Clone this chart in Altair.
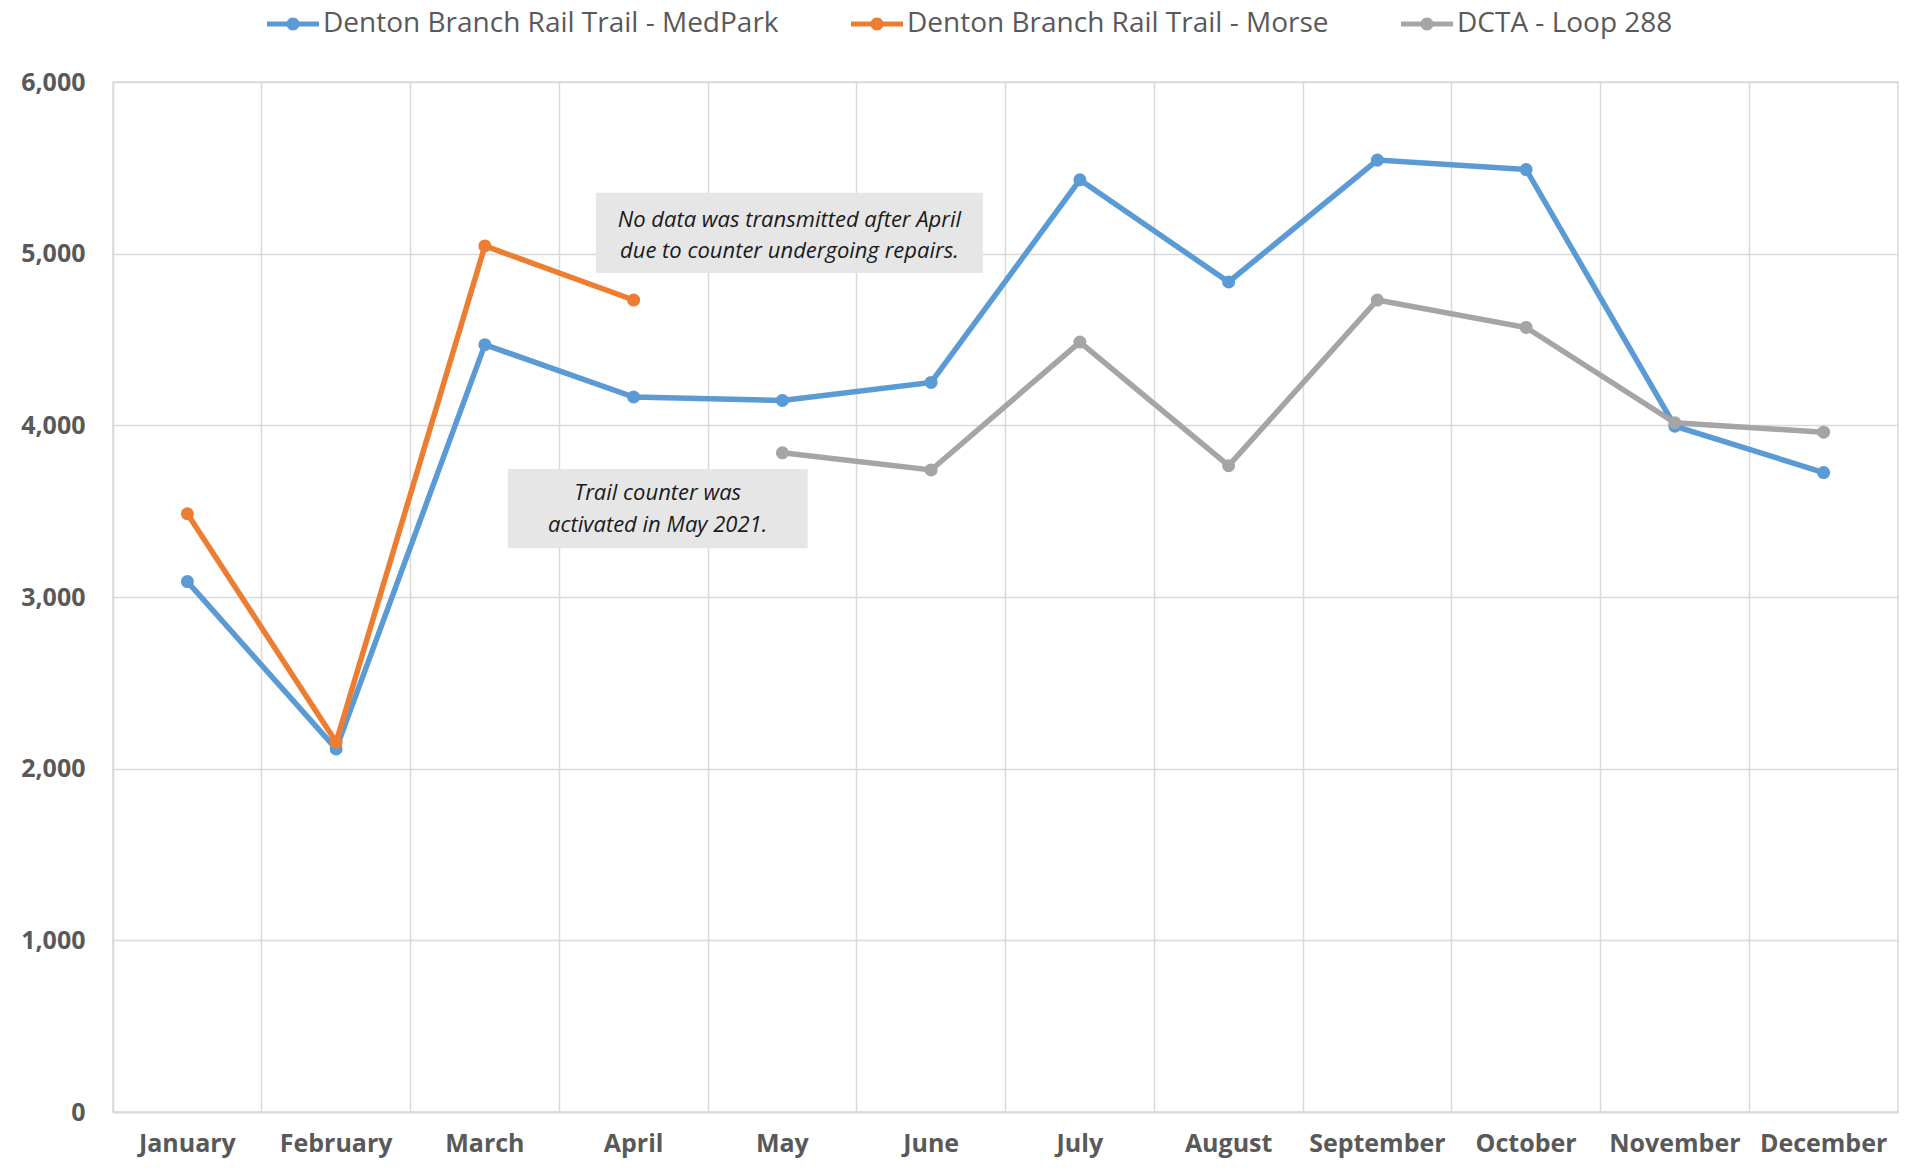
import altair as alt
import pandas as pd

months = ["January", "February", "March", "April", "May", "June", "July",
          "August", "September", "October", "November", "December"]
series_names = ["Denton Branch Rail Trail - MedPark",
                "Denton Branch Rail Trail - Morse",
                "DCTA - Loop 288"]
series_colors = ["#5B9BD5", "#ED7D31", "#A5A5A5"]

medpark = [3090, 2115, 4470, 4165, 4145, 4250, 5430, 4835, 5545, 5490, 3995, 3725]
morse = [3485, 2155, 5045, 4730, None, None, None, None, None, None, None, None]
dcta = [None, None, None, None, 3840, 3740, 4485, 3765, 4730, 4570, 4015, 3960]

# annotation boxes: anchor month, top and bottom value
box_months = ["May", "April"]
box_top = [5355, 3745]
box_bottom = [4887, 3284]
box_widths = [387, 300]
box_offsets = [7, 24]
box_lines = [["No data was transmitted after April", "due to counter undergoing repairs."],
             ["Trail counter was", "activated in May 2021."]]
box_line_values = [[5199, 5014], [3603, 3418]]

rows = []
for name, vals in zip(series_names, [medpark, morse, dcta]):
    for m, v in zip(months, vals):
        if v is not None:
            rows.append({"month": m, "series": name, "value": v})
df = pd.DataFrame(rows)

PATH = ("M-1,-0.1H1V0.1H-1Z "
        "M0.25,0A0.25,0.25,0,1,1,-0.25,0A0.25,0.25,0,1,1,0.25,0Z")

xscale = alt.Scale(type="band", domain=months, paddingInner=0, paddingOuter=0)
yscale = alt.Scale(domain=[0, 6000], nice=False)
color_scale = alt.Scale(domain=series_names, range=series_colors)

x_enc = alt.X("month:N", scale=xscale, sort=months, bandPosition=0.5,
              axis=alt.Axis(title=None, bandPosition=0, grid=True, gridColor="#D9D9D9",
                            gridWidth=1.5, ticks=False, domainColor="#D9D9D9",
                            domainWidth=1.5, labelAngle=0, labelFont="Open Sans",
                            labelFontSize=25, labelFontWeight="bold",
                            labelColor="#595959", labelPadding=19,
                            labelBound=False, labelOverlap=False))
y_enc = alt.Y("value:Q", scale=yscale,
              axis=alt.Axis(title=None, values=[0, 1000, 2000, 3000, 4000, 5000, 6000],
                            format=",.0f", grid=True, gridColor="#D9D9D9", gridWidth=1.5,
                            ticks=False, domain=False, labelFont="Open Sans",
                            labelFontSize=25, labelFontWeight="bold",
                            labelColor="#595959", labelPadding=28))

legend = alt.Legend(orient="none", legendX=154, legendY=-84, direction="horizontal",
                    title=None, symbolType=PATH, symbolSize=2704, symbolStrokeWidth=0,
                    labelFont="Open Sans", labelFontSize=28, labelColor="#595959",
                    labelLimit=0, columnPadding=72, labelOffset=4)

layers = []
for name, col in zip(series_names, series_colors):
    sub = df[df["series"] == name]
    base = alt.Chart(sub)
    line = base.mark_line(strokeWidth=5.5, color=col).encode(x=x_enc, y=y_enc)
    pts = base.mark_point(filled=True, size=170, opacity=1).encode(
        x=x_enc, y=y_enc,
        color=alt.Color("series:N", scale=color_scale, legend=legend))
    layers += [line, pts]

for i in range(2):
    bdf = pd.DataFrame({"month": [box_months[i]], "value": [box_top[i]],
                        "value2": [box_bottom[i]]})
    box = alt.Chart(bdf).mark_bar(width=box_widths[i], xOffset=box_offsets[i],
                                  color="#E7E6E6").encode(
        x=alt.X("month:N", scale=xscale, sort=months),
        y=alt.Y("value:Q", scale=yscale), y2="value2:Q")
    tdf = pd.DataFrame({"month": [box_months[i]] * 2, "value": box_line_values[i],
                        "text": box_lines[i]})
    txt = alt.Chart(tdf).mark_text(font="Open Sans", fontStyle="italic", fontSize=22,
                                   color="#1A1A1A", dx=box_offsets[i],
                                   baseline="middle", align="center").encode(
        x=alt.X("month:N", scale=xscale, sort=months, bandPosition=0.5),
        y=alt.Y("value:Q", scale=yscale), text="text:N")
    layers += [box, txt]

chart = alt.layer(*layers).properties(
    width=1785, height=1030,
    padding={"left": 105, "top": 74, "right": 7, "bottom": 50},
    autosize=alt.AutoSizeParams(type="none"),
).configure_view(stroke="#D9D9D9", strokeWidth=1.5)

chart.save("out.html", embed_options={"renderer": "svg", "actions": False})
